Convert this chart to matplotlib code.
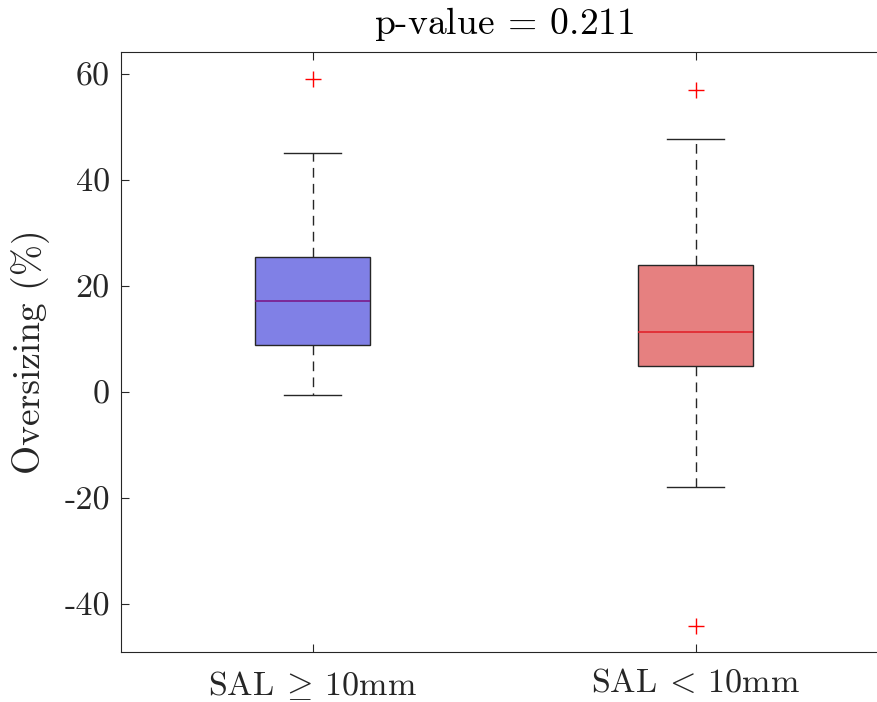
import matplotlib
matplotlib.use("Agg")
import matplotlib.pyplot as plt

plt.rcParams["font.family"] = "serif"
plt.rcParams["font.serif"] = ["cmr10", "DejaVu Serif"]
plt.rcParams["mathtext.fontset"] = "cm"
plt.rcParams["axes.unicode_minus"] = False
plt.rcParams["axes.formatter.use_mathtext"] = True

# Summary statistics of oversizing (%) per group
group_labels = [r"SAL $\!\geq\!$ 10mm", r"SAL $\!<\!$ 10mm"]
medians = [17.1, 11.2]
q1 = [8.75, 4.9]
q3 = [25.4, 23.9]
whisker_low = [-0.7, -18.0]
whisker_high = [45.0, 47.6]
outliers = [[59.0], [56.9, -44.2]]

y_ticks = [-40, -20, 0, 20, 40, 60]
y_tick_labels = ["-40", "-20", "0", "20", "40", "60"]
p_value = 0.211

fill_colors = ["#8080E6", "#E68080"]
median_colors = ["#7A1A8A", "#E0242C"]
ink = "#262626"

fig = plt.figure(figsize=(8.77, 7.02), dpi=100)
ax = fig.add_axes([121 / 877, 1 - 652 / 702, 766 / 877, 600 / 702])

stats = []
for i in range(len(group_labels)):
    stats.append(dict(med=medians[i], q1=q1[i], q3=q3[i],
                      whislo=whisker_low[i], whishi=whisker_high[i],
                      fliers=outliers[i], label=group_labels[i]))

bp = ax.bxp(stats, positions=[1, 2], widths=0.3, patch_artist=True,
            showfliers=True,
            boxprops=dict(edgecolor=ink, linewidth=1.0),
            whiskerprops=dict(color=ink, linestyle=(0, (7, 4.5)), linewidth=1.0),
            capprops=dict(color=ink, linewidth=1.0),
            flierprops=dict(marker="+", markeredgecolor="red",
                            markersize=11, markeredgewidth=1.0, linestyle="none"),
            medianprops=dict(linewidth=1.2))
for cap in bp["caps"]:
    x0, x1 = cap.get_xdata()
    c = (x0 + x1) / 2
    cap.set_xdata([c - 0.075, c + 0.075])
for patch, fc in zip(bp["boxes"], fill_colors):
    patch.set_facecolor(fc)
for med, mc in zip(bp["medians"], median_colors):
    med.set_color(mc)

ax.set_xlim(0.5, 2.5)
ax.set_ylim(-49.1, 64.1)
ax.set_yticks(y_ticks)
ax.set_yticklabels(y_tick_labels)
ax.set_xticks([1, 2])
ax.set_xticklabels(group_labels)

ax.tick_params(axis="both", direction="in", length=6, width=0.8,
               colors=ink, labelsize=24.5)
ax.tick_params(axis="y", pad=8)
ax.tick_params(axis="x", pad=12)
ax.tick_params(top=True, right=True)
for s in ax.spines.values():
    s.set_color(ink)
    s.set_linewidth(0.8)

ax.set_ylabel("Oversizing (%)", fontsize=27, color=ink, labelpad=10)
ax.set_title(f"p-value $\\!=\\!$ {p_value}", fontsize=27, color="black", pad=13)

fig.savefig("out.png", dpi=100)
